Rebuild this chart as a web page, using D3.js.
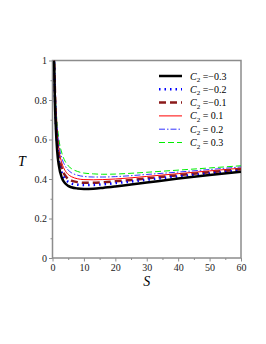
<!DOCTYPE html>
<html lang="en">
<head>
<meta charset="UTF-8">
<title>T vs S</title>
<script src="https://cdn.jsdelivr.net/npm/d3@7"></script>
<style>
	body { margin: 0; background: #fff; }
	svg { display: block; font-family: "Liberation Serif", "DejaVu Serif", serif; }
	.frame { fill: none; stroke: #8c8c8c; stroke-width: 1.5px; }
	.tick line { stroke: #8c8c8c; }
	.tick text { font-size: 10px; fill: #222; font-family: "Liberation Serif", "DejaVu Serif", serif; }
</style>
</head>
<body>
<script>
// sample points
var sVals = [0.5, 0.75, 1, 1.5, 2, 3, 4, 5, 6, 8, 10, 13, 16, 20, 25, 30, 40, 50, 60];
var tM03 = [1.0, 0.8, 0.68, 0.54, 0.47, 0.405, 0.378, 0.365, 0.358, 0.352, 0.35, 0.351, 0.355, 0.362, 0.372, 0.382, 0.402, 0.42, 0.437];
var tM02 = [1.02, 0.83, 0.71, 0.575, 0.5, 0.43, 0.4, 0.385, 0.377, 0.371, 0.369, 0.37, 0.373, 0.379, 0.387, 0.396, 0.413, 0.428, 0.443];
var tM01 = [1.04, 0.86, 0.74, 0.6, 0.525, 0.452, 0.418, 0.4, 0.392, 0.384, 0.381, 0.381, 0.383, 0.388, 0.395, 0.403, 0.419, 0.434, 0.449];
var tP01 = [1.06, 0.88, 0.76, 0.63, 0.555, 0.48, 0.443, 0.423, 0.412, 0.401, 0.397, 0.396, 0.397, 0.4, 0.406, 0.413, 0.427, 0.441, 0.455];
var tP02 = [1.08, 0.9, 0.78, 0.655, 0.58, 0.505, 0.467, 0.445, 0.432, 0.419, 0.413, 0.41, 0.41, 0.412, 0.417, 0.423, 0.435, 0.448, 0.461];
var tP03 = [1.1, 0.92, 0.8, 0.68, 0.605, 0.53, 0.49, 0.467, 0.453, 0.438, 0.43, 0.426, 0.424, 0.425, 0.429, 0.434, 0.445, 0.456, 0.467];
var c2Labels = ["=\u22120.3", "=\u22120.2", "=\u22120.1", "= 0.1", "= 0.2", "= 0.3"];
var xTicks = [0, 10, 20, 30, 40, 50, 60];
var yTicks = [0, 0.2, 0.4, 0.6, 0.8, 1];

var series = [
	{ t: tM03, color: "#000000", width: 2.5, dash: null },
	{ t: tM02, color: "#0000ff", width: 2.5, dash: "1.5,4" },
	{ t: tM01, color: "#8b1a1a", width: 2.5, dash: "7,4" },
	{ t: tP01, color: "#ff0000", width: 1, dash: null },
	{ t: tP02, color: "#3333ff", width: 1, dash: "6,2,1.5,2" },
	{ t: tP03, color: "#00ee00", width: 1, dash: "6,3" }
];

var width = 266, height = 344;
var svg = d3.select("body").append("svg")
	.attr("width", width)
	.attr("height", height);

var x = d3.scaleLinear().domain([0, 60]).range([52.5, 241]);
var y = d3.scaleLinear().domain([0, 1]).range([258, 60.5]);

svg.append("clipPath").attr("id", "clip")
	.append("rect")
	.attr("x", x(0)).attr("y", y(1))
	.attr("width", x(60) - x(0)).attr("height", y(0) - y(1));

// minor ticks
svg.append("g")
	.attr("transform", "translate(0," + y(0) + ")")
	.call(d3.axisBottom(x).tickValues(d3.range(5, 60, 10)).tickSize(2).tickFormat(""))
	.call(function (g) { g.select(".domain").remove(); });
svg.append("g")
	.attr("transform", "translate(" + x(0) + ",0)")
	.call(d3.axisLeft(y).tickValues(d3.range(0.1, 1, 0.2)).tickSize(2).tickFormat(""))
	.call(function (g) { g.select(".domain").remove(); });

svg.append("g")
	.attr("transform", "translate(0," + y(0) + ")")
	.call(d3.axisBottom(x).tickValues(xTicks).tickSize(3.5).tickPadding(2))
	.call(function (g) { g.select(".domain").remove(); });
svg.append("g")
	.attr("transform", "translate(" + x(0) + ",0)")
	.call(d3.axisLeft(y).tickValues(yTicks).tickSize(3.5).tickPadding(2).tickFormat(function (d) { return d === 0 || d === 1 ? d : d.toFixed(1); }))
	.call(function (g) { g.select(".domain").remove(); });

svg.append("rect")
	.attr("class", "frame")
	.attr("x", x(0)).attr("y", y(1))
	.attr("width", x(60) - x(0)).attr("height", y(0) - y(1));

var line = d3.line()
	.x(function (d, i) { return x(sVals[i]); })
	.y(function (d) { return y(d); })
	.curve(d3.curveMonotoneX);

var plot = svg.append("g").attr("clip-path", "url(#clip)");
series.slice().reverse().forEach(function (s) {
	plot.append("path")
		.attr("d", line(s.t))
		.attr("fill", "none")
		.attr("stroke", s.color)
		.attr("stroke-width", s.width)
		.attr("stroke-dasharray", s.dash);
});

// axis titles
svg.append("text")
	.attr("x", x(30)).attr("y", 286)
	.attr("text-anchor", "middle")
	.style("font-style", "italic").style("font-size", "14px")
	.text("S");
svg.append("text")
	.attr("x", 22).attr("y", 166)
	.attr("text-anchor", "middle")
	.style("font-style", "italic").style("font-size", "14px")
	.text("T");

// legend
var legend = svg.append("g");
series.forEach(function (s, i) {
	var ly = 76 + i * 13.3;
	legend.append("line")
		.attr("x1", 159).attr("x2", 182)
		.attr("y1", ly).attr("y2", ly)
		.attr("stroke", s.color)
		.attr("stroke-width", s.width)
		.attr("stroke-dasharray", s.dash);
	var t = legend.append("text")
		.attr("x", 190).attr("y", ly + 3.5)
		.style("font-size", "10px");
	t.append("tspan").style("font-style", "italic").text("C");
	t.append("tspan").attr("dy", 2.5).style("font-size", "7px").text("2");
	t.append("tspan").attr("dy", -2.5).text(" " + c2Labels[i]);
});
</script>
</body>
</html>
